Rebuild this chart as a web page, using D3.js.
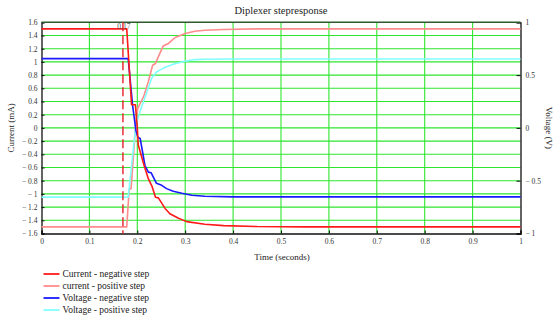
<!DOCTYPE html>
<html>
<head>
<meta charset="utf-8">
<script src="https://cdn.jsdelivr.net/npm/d3@7"></script>
<style>
  html, body { margin: 0; padding: 0; background: #fff; }
  svg { display: block; font-family: "Liberation Serif", "Times New Roman", serif; }
</style>
</head>
<body>
<svg id="chart" width="555" height="322"></svg>
<script>
// Step response of the diplexer: current (mA, left axis) and voltage (V, right axis)
const title = "Diplexer stepresponse";
const xTicks = [0, 0.1, 0.2, 0.3, 0.4, 0.5, 0.6, 0.7, 0.8, 0.9, 1];
const currentTicks = [-1.6, -1.4, -1.2, -1, -0.8, -0.6, -0.4, -0.2, 0, 0.2, 0.4, 0.6, 0.8, 1, 1.2, 1.4, 1.6];
const voltageTicks = [-1, -0.5, 0, 0.5, 1];
const stepMarker = 0.17;

// Current, negative step (mA)
const tCurrentNeg = [0, 0.178, 0.188, 0.196, 0.2, 0.202, 0.215, 0.223, 0.231, 0.238, 0.244, 0.258, 0.268, 0.286, 0.303, 0.341, 0.38, 0.45, 0.55, 1];
const currentNeg  = [1.5, 1.5, 0.35, 0.35, 0.0, -0.26, -0.59, -0.77, -0.89, -1.05, -1.06, -1.22, -1.30, -1.37, -1.42, -1.46, -1.48, -1.495, -1.5, -1.5];

// Current, positive step (mA)
const tCurrentPos = [0, 0.178, 0.183, 0.187, 0.197, 0.199, 0.201, 0.213, 0.223, 0.232, 0.238, 0.244, 0.254, 0.265, 0.279, 0.300, 0.320, 0.341, 0.38, 0.45, 1];
const currentPos  = [-1.5, -1.5, -0.93, -0.92, 0.1, 0.2, 0.3, 0.47, 0.70, 0.95, 0.975, 1.08, 1.24, 1.28, 1.37, 1.43, 1.465, 1.48, 1.49, 1.5, 1.5];

// Voltage, negative step (V)
const tVoltageNeg = [0, 0.181, 0.19, 0.197, 0.201, 0.206, 0.216, 0.223, 0.229, 0.240, 0.251, 0.261, 0.275, 0.293, 0.314, 0.341, 0.4, 1];
const voltageNeg  = [0.656, 0.656, 0.22, -0.022, -0.0875, -0.1, -0.356, -0.419, -0.425, -0.525, -0.544, -0.575, -0.6, -0.619, -0.6375, -0.647, -0.653, -0.653];

// Voltage, positive step (V)
const tVoltagePos = [0, 0.181, 0.197, 0.201, 0.209, 0.220, 0.230, 0.240, 0.247, 0.258, 0.275, 0.293, 0.320, 0.341, 0.4, 1];
const voltagePos  = [-0.656, -0.656, 0.025, 0.0875, 0.2, 0.34, 0.47, 0.53, 0.547, 0.575, 0.603, 0.625, 0.647, 0.65, 0.653, 0.653];

const legendLabels = ["Current - negative step", "current - positive step", "Voltage - negative step", "Voltage - positive step"];
const colors = ["#ff1a1a", "#ff8c8c", "#1a1aff", "#80ffff"];

const svg = d3.select("#chart");
const plot = { left: 41.5, right: 520.5, top: 22.3, bottom: 233.5 };

const x = d3.scaleLinear().domain([0, 1]).range([plot.left, plot.right]);
const yI = d3.scaleLinear().domain([-1.6, 1.6]).range([plot.bottom, plot.top]);
const yV = d3.scaleLinear().domain([-1, 1]).range([plot.bottom, plot.top]);

const fmt = v => {
  const s = d3.format("~g")(Math.abs(+v.toFixed(2)));
  return v < 0 ? "\u2212 " + s : s;
};

// Grid
const grid = svg.append("g").attr("stroke", "#2ee62e").attr("stroke-width", 1.1);
grid.selectAll("line.v").data(xTicks.slice(1, -1)).join("line")
  .attr("x1", d => x(d)).attr("x2", d => x(d))
  .attr("y1", plot.top).attr("y2", plot.bottom);
grid.selectAll("line.h").data(currentTicks.slice(1, -1)).join("line")
  .attr("x1", plot.left).attr("x2", plot.right)
  .attr("y1", d => yI(d)).attr("y2", d => yI(d));

// Axes
const axisX = d3.axisBottom(x).tickValues(xTicks).tickFormat(fmt).tickSize(-3).tickPadding(5);
const axisL = d3.axisLeft(yI).tickValues(currentTicks).tickFormat(fmt).tickSize(-3).tickPadding(4);
const axisR = d3.axisRight(yV).tickValues(voltageTicks).tickFormat(fmt).tickSize(-4).tickPadding(5);

function styleAxis(g) {
  g.select(".domain").attr("stroke", "#111").attr("stroke-width", 1.3);
  g.selectAll(".tick line").attr("stroke", "#111");
  g.selectAll(".tick text").attr("font-family", "Liberation Serif, serif").attr("font-size", 7.5).attr("fill", "#333");
}
svg.append("g").attr("transform", `translate(0,${plot.bottom})`).call(axisX).call(styleAxis);
svg.append("g").attr("transform", `translate(${plot.left},0)`).call(axisL).call(styleAxis);
svg.append("g").attr("transform", `translate(${plot.right},0)`).call(axisR).call(styleAxis);

// Top frame
svg.append("line").attr("x1", plot.left).attr("x2", plot.right)
  .attr("y1", plot.top).attr("y2", plot.top)
  .attr("stroke", "#2f5a2f").attr("stroke-width", 1.4);

// Series
const line = (ys) => d3.line().x(d => x(d[0])).y(d => ys(d[1]));
const series = [
  { t: tCurrentNeg, v: currentNeg, s: yI },
  { t: tCurrentPos, v: currentPos, s: yI },
  { t: tVoltageNeg, v: voltageNeg, s: yV },
  { t: tVoltagePos, v: voltagePos, s: yV }
];
[1, 3, 2, 0].forEach(i => {
  const sr = series[i];
  svg.append("path")
    .datum(d3.zip(sr.t, sr.v))
    .attr("d", line(sr.s))
    .attr("fill", "none")
    .attr("stroke", colors[i])
    .attr("stroke-width", 1.6)
    .attr("stroke-linejoin", "round");
});

// Step marker
svg.append("line")
  .attr("x1", x(stepMarker)).attr("x2", x(stepMarker))
  .attr("y1", plot.top).attr("y2", plot.bottom)
  .attr("stroke", "#e8202a").attr("stroke-width", 1.4)
  .attr("stroke-dasharray", "9,4");
svg.append("text")
  .attr("x", x(stepMarker) + 1).attr("y", plot.top + 6.3)
  .attr("text-anchor", "middle")
  .attr("font-size", 7.5).attr("fill", "#555")
  .text(fmt(stepMarker));

// Titles
svg.append("text")
  .attr("x", 281).attr("y", 14)
  .attr("text-anchor", "middle")
  .attr("font-size", 10.5).attr("fill", "#222")
  .text(title);
svg.append("text")
  .attr("x", 282).attr("y", 260)
  .attr("text-anchor", "middle")
  .attr("font-size", 9).attr("fill", "#222")
  .text("Time (seconds)");
svg.append("text")
  .attr("transform", `translate(11,${(plot.top + plot.bottom) / 2}) rotate(-90)`)
  .attr("text-anchor", "middle").attr("dominant-baseline", "central")
  .attr("font-size", 9).attr("fill", "#222")
  .text("Current (mA)");
svg.append("text")
  .attr("transform", `translate(549,${(plot.top + plot.bottom) / 2}) rotate(90)`)
  .attr("text-anchor", "middle").attr("dominant-baseline", "central")
  .attr("font-size", 9).attr("fill", "#222")
  .text("Voltage (V)");

// Legend
const legend = svg.append("g");
const rowY = d3.scaleLinear().domain([0, 3]).range([274, 310]);
legendLabels.forEach((lab, i) => {
  legend.append("line")
    .attr("x1", 43.5).attr("x2", 59.5)
    .attr("y1", rowY(i)).attr("y2", rowY(i))
    .attr("stroke", colors[i]).attr("stroke-width", 1.8);
  legend.append("text")
    .attr("x", 62.5).attr("y", rowY(i))
    .attr("dominant-baseline", "central")
    .attr("font-size", 9.5).attr("fill", "#222")
    .text(lab);
});
</script>
</body>
</html>
